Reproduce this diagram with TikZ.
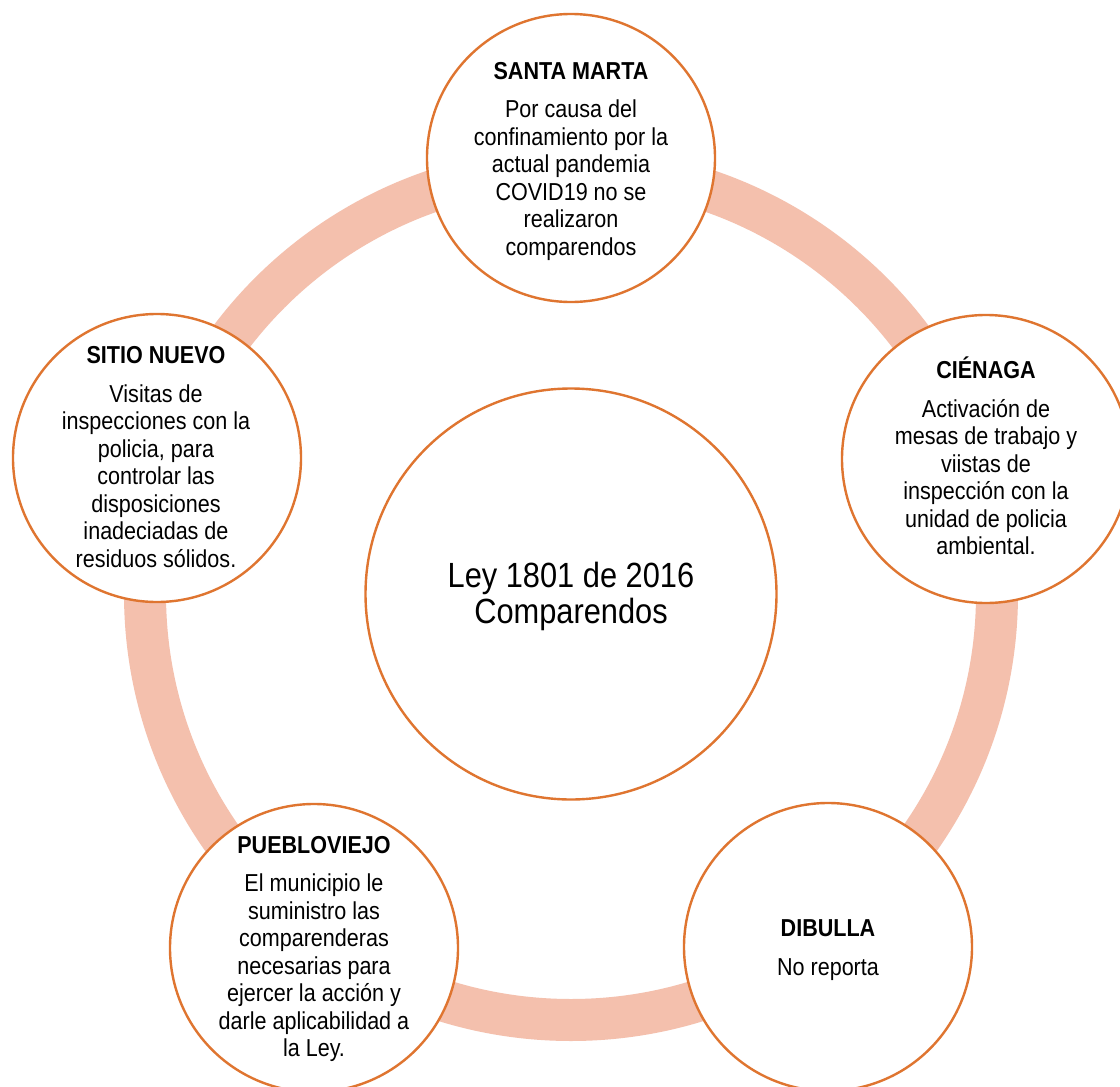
\documentclass[tikz,border=0pt]{standalone}
\usepackage{fontspec}
\setmainfont{Liberation Sans}[FakeStretch=0.88]
\definecolor{ringc}{HTML}{F4C0AD}
\definecolor{edgec}{HTML}{DF7530}
\begin{document}
\begin{tikzpicture}[x=1pt,y=-1pt,
  stage/.style={circle,draw=edgec,line width=2.4pt,fill=white,minimum size=288pt,inner sep=0pt},
  hub/.style={circle,draw=edgec,line width=2.4pt,fill=white,minimum size=411pt,inner sep=0pt},
  txt/.style={align=center,font=\fontsize{24.5}{27.5}\selectfont,inner sep=0pt},
  hubtxt/.style={align=center,font=\fontsize{35}{36}\selectfont,inner sep=0pt},
  ring/.style={draw=ringc,line width=42pt}]
\clip (0,0) rectangle (1120,1087);
\fill[white] (0,0) rectangle (1120,1087);
\coordinate (mid) at (571,594);
\draw[ring] (mid) circle[radius=426pt];
\node[hub] (ley) at (mid) {};
\node[stage] (sm) at (571,158) {};
\node[stage] (cie) at (986,459) {};
\node[stage] (dib) at (828,947) {};
\node[stage] (pue) at (314,948) {};
\node[stage] (sit) at (157,458) {};
\node[hubtxt] (leyt) at (571,596) {Ley 1801 de 2016\\Comparendos};
\node[txt] (smt) at (571,161) {\textbf{SANTA MARTA}\\[11pt]Por causa del\\confinamiento por la\\actual pandemia\\COVID19 no se\\realizaron\\comparendos};
\node[txt] (ciet) at (986,456) {\textbf{CIÉNAGA}\\[11pt]Activación de\\mesas de trabajo y\\viistas de\\inspección con la\\unidad de policia\\ambiental.};
\node[txt] (sitt) at (156,457) {\textbf{SITIO NUEVO}\\[11pt]Visitas de\\inspecciones con la\\policia, para\\controlar las\\disposiciones\\inadeciadas de\\residuos sólidos.};
\node[txt] (puet) at (314,949) {\textbf{PUEBLOVIEJO}\\[11pt]El municipio le\\suministro las\\comparenderas\\necesarias para\\ejercer la acción y\\darle aplicabilidad a\\la Ley.};
\node[txt] (dibt) at (828,950) {\textbf{DIBULLA}\\[11pt]No reporta};
\end{tikzpicture}
\end{document}
